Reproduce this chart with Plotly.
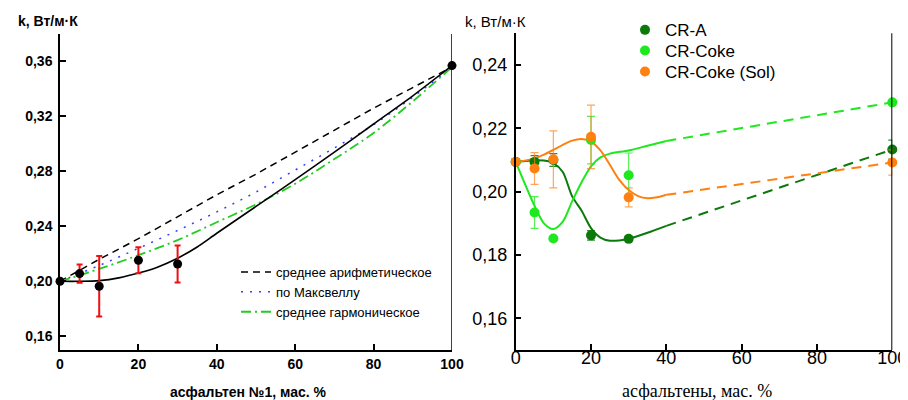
import plotly.graph_objects as go

# ---------------- Left panel data ----------------
left_x = [0, 5, 10, 20, 30, 100]
left_k = [0.200, 0.2056, 0.1964, 0.2153, 0.2126, 0.357]
left_err = [0, 0.0066, 0.022, 0.0095, 0.0135, 0]

model_x = [0, 10, 20, 30, 40, 50, 60, 70, 80, 90, 100]
arith_k = [0.200, 0.216, 0.231, 0.247, 0.263, 0.278, 0.294, 0.310, 0.326, 0.341, 0.356]
maxwell_k = [0.200, 0.2115, 0.224, 0.237, 0.2505, 0.265, 0.281, 0.297, 0.314, 0.334, 0.356]
harm_k = [0.200, 0.209, 0.219, 0.230, 0.243, 0.256, 0.271, 0.289, 0.308, 0.331, 0.356]

fit_x = [0, 5, 10, 15, 20, 25, 30, 35, 40, 50, 60, 70, 80, 90, 100]
fit_k = [0.200, 0.200, 0.2005, 0.2025, 0.206, 0.2105, 0.2168, 0.225, 0.235, 0.2545,
         0.274, 0.294, 0.3145, 0.335, 0.357]

left_legend_names = ["среднее арифметическое", "по Максвеллу", "среднее гармоническое"]
left_xticks = [0, 20, 40, 60, 80, 100]
left_yticks = [0.16, 0.20, 0.24, 0.28, 0.32, 0.36]
left_ytick_text = ["0,16", "0,20", "0,24", "0,28", "0,32", "0,36"]

# ---------------- Right panel data ----------------
pts_x = [0, 5, 10, 20, 30, 100]
cra_k = [0.2094, 0.2094, 0.2100, 0.1862, 0.1851, 0.2133]
cra_err = [0, 0.002, 0.002, 0.0015, 0.0007, 0.003]
coke_k = [0.2094, 0.1934, 0.1852, 0.2163, 0.2052, 0.2282]
coke_err = [0, 0.005, 0, 0.0075, 0.007, 0]
sol_k = [0.2094, 0.2073, 0.2102, 0.2173, 0.1982, 0.2092]
sol_err = [0, 0.005, 0.009, 0.010, 0.003, 0.004]

cra_cx = [0, 2.5, 5, 7.5, 10, 12.5, 15, 17.5, 20, 22.5, 25, 27.5, 30, 35, 40]
cra_cy = [0.2094, 0.2097, 0.2099, 0.2098, 0.2090, 0.2062, 0.1985, 0.1940, 0.1885,
          0.1855, 0.1845, 0.1846, 0.1851, 0.1870, 0.1892]
coke_cx = [0, 2.5, 5, 7.5, 10, 12.5, 15, 17.5, 20, 22.5, 25, 30, 35, 40]
coke_cy = [0.2094, 0.2023, 0.1955, 0.1900, 0.1882, 0.1905, 0.1970, 0.2030, 0.2080,
           0.2108, 0.2120, 0.2130, 0.2145, 0.2160]
sol_cx = [0, 2.5, 5, 7.5, 10, 12.5, 15, 17.5, 20, 22.5, 25, 27.5, 30, 32.5, 35, 37.5, 40]
sol_cy = [0.2094, 0.2098, 0.2105, 0.2117, 0.2132, 0.2148, 0.2161, 0.2166, 0.2158,
          0.2130, 0.2085, 0.2037, 0.2005, 0.1986, 0.1979, 0.1982, 0.1990]

dash_x = [40, 100]
cra_dash = [0.1892, 0.2133]
coke_dash = [0.2160, 0.2282]
sol_dash = [0.1990, 0.2092]

right_names = ["CR-A", "CR-Coke", "CR-Coke (Sol)"]
right_xticks = [0, 20, 40, 60, 80, 100]
right_yticks = [0.16, 0.18, 0.20, 0.22, 0.24]
right_ytick_text = ["0,16", "0,18", "0,20", "0,22", "0,24"]

C_A = "#0b7a0b"
C_COKE = "#1ee81e"
C_SOL = "#ff8010"

SANS = "Liberation Sans, Arial, sans-serif"
SERIF = "Liberation Serif, Times New Roman, serif"

# page has an 8px body margin: figure is 900x392 placed at (8, 8)
W, H, OFF = 900, 392, 8


def PX(px):
    return (px - OFF) / W


def PY(py):
    return 1 - (py - OFF) / H


fig = go.Figure()

# ---- left: model curves (in legend)
fig.add_trace(go.Scatter(x=model_x, y=arith_k, mode="lines", name=left_legend_names[0],
                         line=dict(color="black", width=1.5, dash="7px,5px"),
                         xaxis="x", yaxis="y", legend="legend"))
fig.add_trace(go.Scatter(x=model_x, y=maxwell_k, mode="lines", name=left_legend_names[1],
                         line=dict(color="#3b3bff", width=1.5, dash="2px,7px", shape="spline"),
                         xaxis="x", yaxis="y", legend="legend"))
fig.add_trace(go.Scatter(x=model_x, y=harm_k, mode="lines", name=left_legend_names[2],
                         line=dict(color="#22cc22", width=1.8, dash="10px,4px,2px,4px",
                                   shape="spline"),
                         xaxis="x", yaxis="y", legend="legend"))
# ---- left: fit curve
fig.add_trace(go.Scatter(x=fit_x, y=fit_k, mode="lines", showlegend=False,
                         line=dict(color="black", width=1.6, shape="spline", smoothing=0.8),
                         xaxis="x", yaxis="y"))
# ---- left: data points
fig.add_trace(go.Scatter(x=left_x, y=left_k, mode="markers", showlegend=False,
                         marker=dict(color="black", size=9),
                         error_y=dict(type="data", array=left_err, visible=True,
                                      color="#ee1111", thickness=2, width=3),
                         cliponaxis=False, xaxis="x", yaxis="y"))

# ---- right: curves
for cx, cy, dy, col in [(cra_cx, cra_cy, cra_dash, C_A),
                        (coke_cx, coke_cy, coke_dash, C_COKE),
                        (sol_cx, sol_cy, sol_dash, C_SOL)]:
    fig.add_trace(go.Scatter(x=cx, y=cy, mode="lines", showlegend=False,
                             line=dict(color=col, width=2, shape="spline", smoothing=0.8),
                             xaxis="x2", yaxis="y2"))
    fig.add_trace(go.Scatter(x=dash_x, y=dy, mode="lines", showlegend=False,
                             line=dict(color=col, width=2, dash="10px,7px"),
                             xaxis="x2", yaxis="y2"))

# ---- right: points (each in its own legend box, to match row spacing)
for name, ks, errs, col, ecol, lg in [
        (right_names[0], cra_k, cra_err, C_A, "rgba(11,122,11,0.85)", "legend2"),
        (right_names[1], coke_k, coke_err, C_COKE, "rgba(30,232,30,0.75)", "legend3"),
        (right_names[2], sol_k, sol_err, C_SOL, "rgba(255,128,16,0.7)", "legend4")]:
    fig.add_trace(go.Scatter(x=pts_x, y=ks, mode="markers", name=name,
                             marker=dict(color=col, size=10),
                             error_y=dict(type="data", array=errs, visible=True,
                                          color=ecol, thickness=1.2, width=4),
                             cliponaxis=False, xaxis="x2", yaxis="y2", legend=lg))

axis_common = dict(showline=True, linecolor="black", linewidth=1.5, ticks="inside",
                   ticklen=6, tickwidth=1.5, tickcolor="black", showgrid=False,
                   zeroline=False, automargin=False)

right_leg = dict(xanchor="left", yanchor="top", bgcolor="rgba(0,0,0,0)",
                 font=dict(family=SANS, size=17, color="black"))

fig.update_layout(
    width=W, height=H,
    margin=dict(l=0, r=0, t=0, b=0, autoexpand=False),
    paper_bgcolor="white", plot_bgcolor="white",
    xaxis=dict(domain=[PX(60), PX(452)], range=[0, 100], tickvals=left_xticks,
               tickfont=dict(family=SANS, size=14, color="black", weight="bold"),
               ticklabelstandoff=0, anchor="y", **axis_common),
    yaxis=dict(domain=[PY(350), PY(34)], range=[0.15, 0.38], tickvals=left_yticks,
               ticktext=left_ytick_text,
               tickfont=dict(family=SANS, size=14, color="black", weight="bold"),
               ticklabelstandoff=3, anchor="x", **axis_common),
    xaxis2=dict(domain=[PX(515.7), PX(892.3)], range=[0, 100], tickvals=right_xticks,
                tickfont=dict(family=SANS, size=18, color="black"),
                ticklabelstandoff=-9, anchor="y2", **axis_common),
    yaxis2=dict(domain=[PY(350), PY(33.3)], range=[0.15, 0.25], tickvals=right_yticks,
                ticktext=right_ytick_text,
                tickfont=dict(family=SANS, size=18, color="black"),
                ticklabelstandoff=3, anchor="x2", **axis_common),
    legend=dict(x=PX(236), y=PY(257), xanchor="left", yanchor="top",
                bgcolor="rgba(0,0,0,0)", font=dict(family=SANS, size=13, color="black"),
                tracegroupgap=0),
    legend2=dict(x=PX(625), y=PY(12.3), **right_leg),
    legend3=dict(x=PX(625), y=PY(33), **right_leg),
    legend4=dict(x=PX(625), y=PY(54), **right_leg),
    shapes=[
        dict(type="line", xref="x", yref="y domain", x0=100, x1=100, y0=0, y1=1,
             line=dict(color="black", width=1.5)),
        dict(type="line", xref="x2", yref="y2 domain", x0=100, x1=100, y0=0, y1=1,
             line=dict(color="black", width=2)),
    ],
    annotations=[
        dict(text="k, Вт/м·К", x=PX(48), y=PY(21.5), xref="paper", yref="paper",
             xanchor="center", yanchor="middle", showarrow=False,
             font=dict(family=SANS, size=14, color="black", weight="bold")),
        dict(text="k, Вт/м·К", x=PX(495), y=PY(21), xref="paper", yref="paper",
             xanchor="center", yanchor="middle", showarrow=False,
             font=dict(family=SANS, size=15, color="black")),
        dict(text="асфальтен №1, мас. %", x=PX(248), y=PY(392), xref="paper",
             yref="paper", xanchor="center", yanchor="middle", showarrow=False,
             font=dict(family=SANS, size=14, color="black", weight="bold")),
        dict(text="асфальтены, мас. %", x=PX(697), y=PY(391), xref="paper",
             yref="paper", xanchor="center", yanchor="middle", showarrow=False,
             font=dict(family=SERIF, size=18, color="black")),
    ],
)

fig.write_html("out.html")
